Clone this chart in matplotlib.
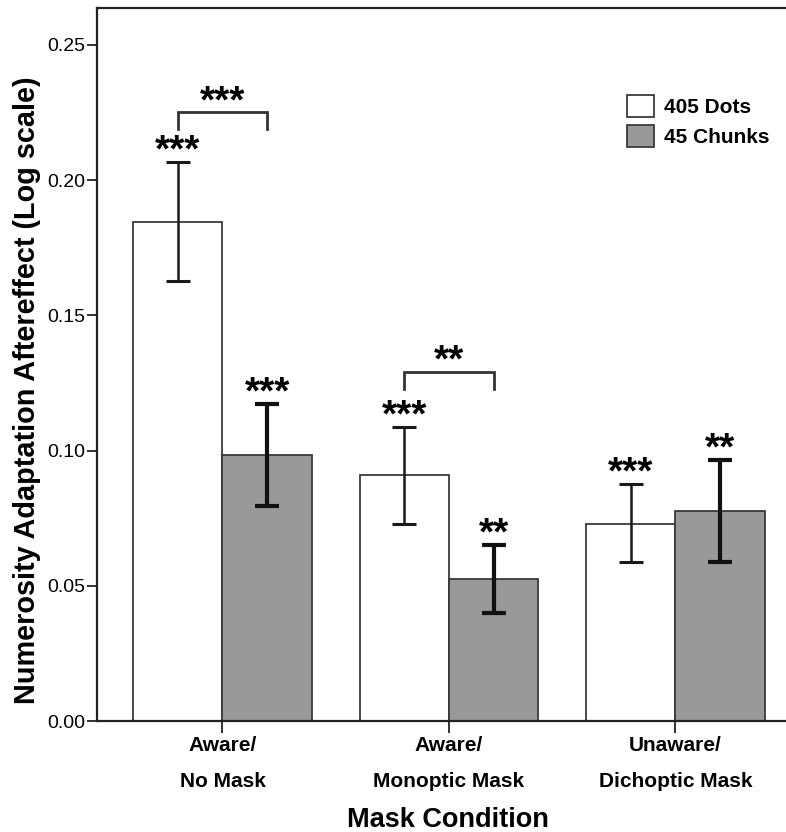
import numpy as np
import matplotlib
matplotlib.use("Agg")
import matplotlib.pyplot as plt

# values
conditions = ["Aware/\nNo Mask", "Aware/\nMonoptic Mask", "Unaware/\nDichoptic Mask"]
dots_mean = [0.1845, 0.0910, 0.0729]
dots_lo = [0.1627, 0.0729, 0.0588]
dots_hi = [0.2067, 0.1087, 0.0876]
chunks_mean = [0.0984, 0.0525, 0.0777]
chunks_lo = [0.0795, 0.0399, 0.0588]
chunks_hi = [0.1172, 0.0651, 0.0965]
dots_stars = ["***", "***", "***"]
chunks_stars = ["***", "**", "**"]
# between-bar comparisons: group, stars, bracket height
pair_groups = [0, 1]
pair_stars = ["***", "**"]
pair_y = [0.2252, 0.1291]

plt.rcParams["font.family"] = ["Liberation Sans", "DejaVu Sans"]

fig = plt.figure(figsize=(7.86, 8.32), dpi=100)
ax = fig.add_axes([97 / 786, 1 - 721 / 832, 1 - 97 / 786, (721 - 8) / 832])

x = np.arange(len(conditions))
w = 0.395
xd = x - w / 2
xc = x + w / 2

ax.bar(xd, dots_mean, w, color="white", edgecolor="#3a3a3a", linewidth=1.3, label="405 Dots", zorder=2)
ax.bar(xc, chunks_mean, w, color="#999999", edgecolor="#3a3a3a", linewidth=1.3, label="45 Chunks", zorder=2)

dm = np.array(dots_mean)
cm = np.array(chunks_mean)
ax.errorbar(xd, dm, yerr=[dm - np.array(dots_lo), np.array(dots_hi) - dm], fmt="none",
            ecolor="#1a1a1a", elinewidth=1.8, capsize=8.3, capthick=2.2, zorder=3)
ax.errorbar(xc, cm, yerr=[cm - np.array(chunks_lo), np.array(chunks_hi) - cm], fmt="none",
            ecolor="#111111", elinewidth=3.0, capsize=8.3, capthick=3.0, zorder=3)

star_kw = dict(textcoords="offset points", ha="center", va="baseline",
               fontsize=28, fontweight="bold", color="black")
for i in range(len(conditions)):
    ax.annotate(dots_stars[i], (xd[i], dots_hi[i]), xytext=(0, 0.5), **star_kw)
    ax.annotate(chunks_stars[i], (xc[i], chunks_hi[i]), xytext=(0, 0.5), **star_kw)

leg = 0.0063
for g, s, y in zip(pair_groups, pair_stars, pair_y):
    ax.plot([xd[g], xd[g], xc[g], xc[g]], [y - leg, y, y, y - leg],
            color="#333333", linewidth=2, solid_joinstyle="miter")
    ax.annotate(s, ((xd[g] + xc[g]) / 2, y), xytext=(0, 0), **star_kw)

ax.set_xlim(-0.554, 2.488)
ax.set_ylim(0, (721 - 8) / 2704)
ax.set_yticks([0.0, 0.05, 0.10, 0.15, 0.20, 0.25])
ax.set_yticklabels(["0.00", "0.05", "0.10", "0.15", "0.20", "0.25"])
ax.set_xticks(x)
ax.set_xticklabels(conditions, fontsize=15, fontweight="bold", linespacing=2.15)
ax.tick_params(axis="y", labelsize=14, length=7, width=1.3, pad=1.5, color="#222222")
ax.tick_params(axis="x", length=8.6, width=1.3, pad=2, color="#222222")

for side in ["left", "bottom", "top"]:
    ax.spines[side].set_linewidth(1.6)
    ax.spines[side].set_color("#222222")
ax.spines["right"].set_visible(False)

ax.set_ylabel("Numerosity Adaptation Aftereffect (Log scale)", fontsize=20.8, fontweight="bold")
ax.yaxis.set_label_coords(-0.082, 0.464)
ax.set_xlabel("Mask Condition", fontsize=19.5, fontweight="bold")
ax.xaxis.set_label_coords(0.509, -0.121)

ax.legend(loc="upper left", bbox_to_anchor=(627 / 786, 1 - 95 / 832), bbox_transform=fig.transFigure,
          frameon=False, prop={"weight": "bold", "size": 15},
          handlelength=1.3, handleheight=1.25, labelspacing=0.38, handletextpad=0.5,
          borderpad=0, borderaxespad=0)

fig.savefig("out.png", dpi=100)
